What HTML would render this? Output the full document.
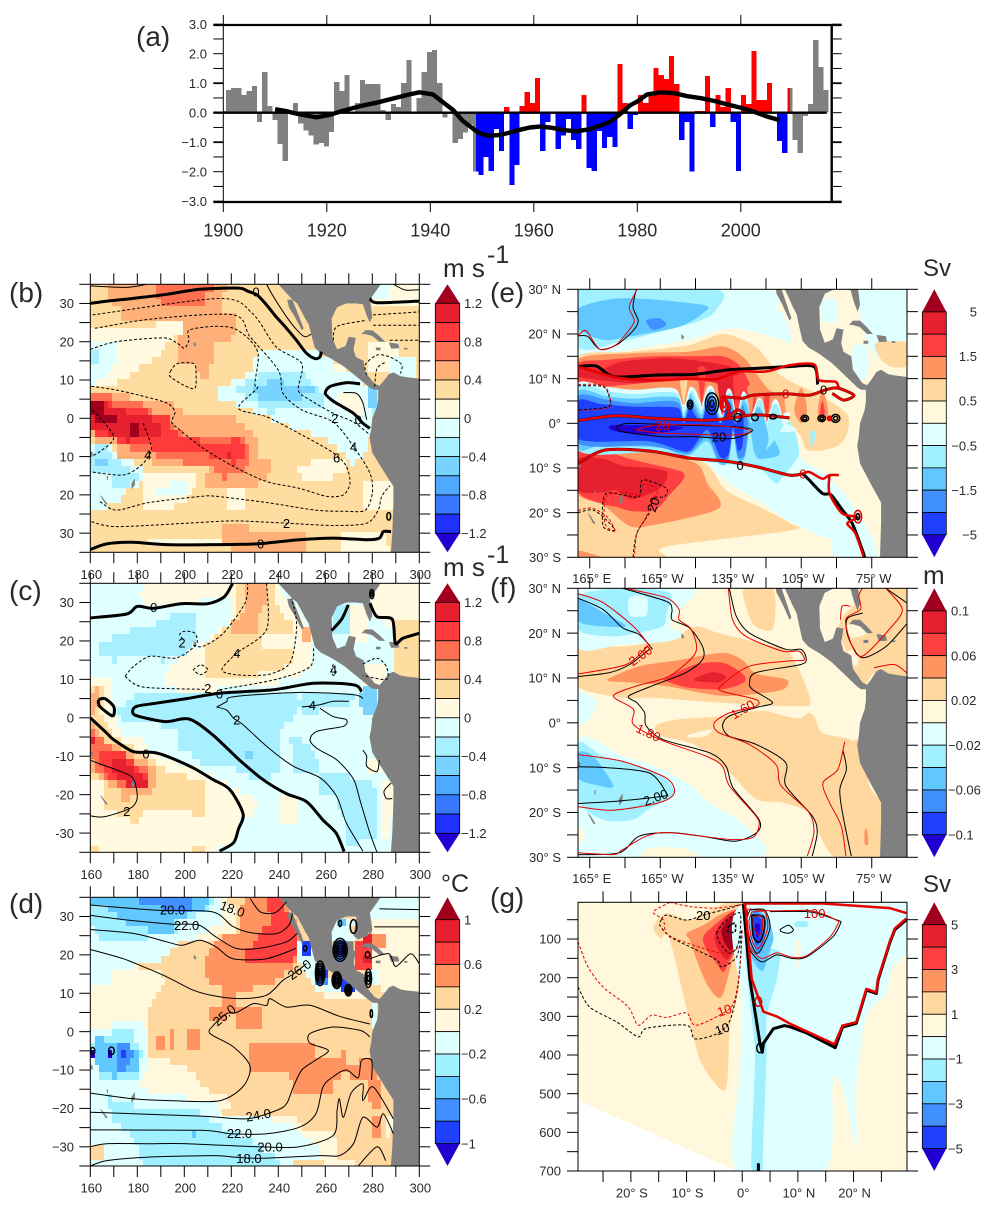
<!DOCTYPE html>
<html lang="en">
<head>
<meta charset="utf-8">
<title>Pacific climate composite panels</title>
<style>
html,body{margin:0;padding:0;background:#fff;}
svg{display:block;font-family:"Liberation Sans",sans-serif;}
text{fill:#2a2a2a;}
</style>
</head>
<body>
<svg id="figure" xmlns="http://www.w3.org/2000/svg" width="997" height="1211" viewBox="0 0 997 1211">
<defs>
<clipPath id="clip-a-plot"><rect x="223.3" y="25" width="608.4" height="177"/></clipPath>
<clipPath id="clip-a-colour"><rect x="476" y="25" width="314" height="177"/></clipPath>
<clipPath id="clip-b"><rect x="90.3" y="284.3" width="329" height="268"/></clipPath>
<clipPath id="clip-c"><rect x="90.3" y="583.3" width="329" height="269"/></clipPath>
<clipPath id="clip-d"><rect x="90.3" y="897.3" width="329" height="268.7"/></clipPath>
<clipPath id="clip-e"><rect x="578" y="289.3" width="329" height="268"/></clipPath>
<clipPath id="clip-f"><rect x="578" y="588.3" width="329" height="269"/></clipPath>
<clipPath id="clip-g"><rect x="578" y="902.3" width="329" height="268.7"/></clipPath>
</defs>
<rect x="0" y="0" width="997" height="1211" fill="#ffffff"/>
<g id="panel-a"></g>
<g id="panel-b"></g>
<g id="panel-c"></g>
<g id="panel-d"></g>
<g id="panel-e"></g>
<g id="panel-f"></g>
<g id="panel-g"></g>
<text x="136" y="46" font-size="28">(a)</text>
<text x="9" y="302" font-size="28">(b)</text>
<text x="9" y="600" font-size="28">(c)</text>
<text x="9" y="913" font-size="28">(d)</text>
<text x="490" y="302" font-size="28">(e)</text>
<text x="490" y="597" font-size="28">(f)</text>
<text x="490" y="907" font-size="28">(g)</text>
<text x="443" y="277" font-size="26">m s</text>
<text x="487" y="263" font-size="25">-1</text>
<text x="443" y="576" font-size="26">m s</text>
<text x="487" y="563" font-size="25">-1</text>
<text x="441" y="892" font-size="25">°C</text>
<text x="923" y="276" font-size="24">Sv</text>
<text x="923" y="584" font-size="26">m</text>
<text x="923" y="892" font-size="24">Sv</text>
</svg>
<script>
/* ---------- panel (a) data ---------- */
const earlyGreyValues = [0.05,0.77,0.84,0.84,0.6,0.73,0.9,-0.31,1.38,0.23,-0.25,-1.06,-1.63,0.02,0.33,-0.37,-0.61,-0.78,-1.08,-1.02,-1.15,-0.65,1.04,0.73,1.28,-0.05,0.33,1.11,0.97,0.97,0.97,0.09,-0.25,0.3,0.2,1.0,1.79,0.02,0.5,1.38,2.06,2.13,1.0,-0.17,-0.01,-1.02,-0.89,-0.67,-0.4,-2.0];
const lateGreyValues = [0.84,-0.93,-1.37,-0.11,0.3,2.46,1.55,0.77];
const colouredValues = [-2.0,-2.11,-1.5,-1.98,-0.55,-1.3,0.19,-2.45,-1.77,0.23,0.7,0.33,1.18,-1.3,-0.32,-0.02,-1.23,-0.78,-0.21,-0.93,-1.23,0.6,-1.88,-1.98,-0.62,-1.2,-0.82,-1.16,1.65,0.33,-0.55,-0.08,0.6,0.33,0.57,1.52,1.28,1.14,1.92,0.97,-0.93,-0.32,-2.0,0.05,0.05,1.24,-0.49,0.6,0.2,0.84,-0.32,-1.98,0.6,0.3,2.09,0.43,0.43,1.0,-0.02,-0.96,-1.37,0.84];
const smoothYears = [1910,1912.2,1914.1,1918,1920.6,1923.2,1926.4,1929.6,1933.4,1936,1937.9,1940.5,1942.5,1944.4,1946.3,1948.3,1949.5,1951.2,1953.4,1955.4,1957.3,1959.2,1961.2,1963.4,1965.7,1968.3,1970.8,1972.8,1974.7,1976.6,1978.6,1980,1981.9,1984.5,1987.1,1989.7,1992.3,1994.8,1997.4,2000,2002.6,2005.2,2007.5];
const smoothValues = [0.12,0.05,-0.03,-0.16,-0.07,0.07,0.22,0.34,0.51,0.62,0.69,0.62,0.35,0.09,-0.28,-0.55,-0.70,-0.78,-0.76,-0.67,-0.58,-0.50,-0.47,-0.51,-0.59,-0.63,-0.56,-0.44,-0.31,-0.06,0.25,0.38,0.62,0.69,0.66,0.56,0.49,0.40,0.28,0.17,0.03,-0.14,-0.25];
const yearTickLabels = [1900,1920,1940,1960,1980,2000];
const valueTickLabels = [3,2,1,0,-1,-2,-3];

/* ---------- colour scales (band index, low = 0) ---------- */
const palette14 = ['#2000d0','#2030ff','#3878ff','#50a8ff','#78d4ff','#a8f0ff','#e0ffff','#fffae0','#ffdca0','#ffb078','#ff7050','#ff3a3a','#e6202e','#a0001e'];
const palette12 = ['#2000d0','#2040ff','#4090ff','#60c8ff','#a0f0ff','#e0ffff','#fff8dc','#ffd8a0','#ff9460','#ff4040','#e6202e','#a0001e'];
const colourbarLabelsB = ['1.2','0.8','0.4','0','−0.4','−0.8','−1.2'];
const colourbarLabelsD = ['1','0.6','0.2','−0.2','−0.6','−1'];
const colourbarLabelsE = ['5','1.5','0.5','−0.5','−1.5','−5'];
const colourbarLabelsF = ['0.1','0.06','0.02','−0.02','−0.06','−0.1'];
const colourbarLabelsG = ['5','3','1','−1','−3','−5'];

/* ---------- land ---------- */
const landOutlines = [
[[239.3,36],[239.3,35.5],[243,33],[246,31],[248,30],[251.5,26],[253,24.5],[254,22],[255.5,18.5],[258,17],[262.5,15.6],[268,13.5],[272,11.5],[276,9.5],[279,8],[280.5,7.5],[282.5,7.5],[282.5,5],[282,3],[280,0],[279.5,-3],[278.8,-5],[280,-9],[282,-11],[285,-14],[289,-17.8],[289,-22],[288.5,-30],[287.8,-36],[301,-36],[301,10.3],[298,10.5],[295,10.7],[292,11],[289,12],[287,11.5],[284.5,9.5],[283,8.5],[281,9],[277,12],[276.3,15],[273,16],[272,18],[273,21],[270,21.3],[268.5,18.8],[265,18],[263,21],[262.7,26],[265,29],[269,30],[273,30],[276,29.8],[277.5,27],[279,25],[280,26.5],[279,31],[283,34.5],[284,36]],
[[243.8,31],[246,31],[250.8,23.5],[250,23],[247,26.5],[244.5,29]],
[[275.3,22],[277,23],[280,23],[283,21.5],[285.5,20],[283,20],[280,21.5],[277,22]],
[[287,19.8],[291,19.5],[291.5,18.3],[288,18.2]],
[[293.5,18.4],[295,18.4],[295,18],[293.5,18]],
[[281.5,18.5],[283.5,18.5],[283.5,17.8],[281.5,17.8]],
[[204,20],[205,19.5],[205,18.8],[204,19]],
[[177.5,-17],[179,-15.7],[179,-17.5],[177.5,-18.5]],
[[164,-20],[165,-20.5],[167.5,-22.5],[166.5,-22.5]],
[[160,-8.5],[161,-9],[161,-10],[160,-9.5]],
[[167,-15],[167.5,-15],[167.5,-16],[167,-16]]
];
const panelDExtraLand = [
[[269,23.5],[272,23.5],[272,16],[269,17]],
[[272,25],[274,24],[278,25],[279,30],[273.4,30.4]]
];

/* ---------- panel (b) data: [colour band, lon/lat outline] ---------- */
const panelBRegions = [
[9,[[168,35],[224,35],[217,34],[217,28],[221,27],[222,23],[220,20],[212,19.6],[212,14],[209,9.5],[207,12],[205,13.5],[198,15],[198,21],[199,25],[173,25],[173,28],[171,29],[168,31]]],
[10,[[187,35],[214,35],[209,32],[209,29],[192,29],[188,32]]],
[7,[[160,23.5],[199,25],[199,21],[192,20.4],[192,18.7],[190,16.5],[182.5,14],[177.5,11.3],[173,9.5],[168,9],[160,8]]],
[6,[[160,20],[171,19.5],[171,15],[167,11],[163,9.5],[160,9]]],
[5,[[160,17],[164,17],[164,14.5],[160,14.5]]],
[6,[[231,17],[240,18.7],[249,17.8],[258,17],[263,15],[263,11.7],[272,13],[276,10],[279,7.4],[282,5],[282,3],[279,-5.6],[277.6,-9],[272,-11.7],[269,-11],[267.7,-9],[263,-6.5],[258,-4.8],[243.5,-2],[235,0.4],[223.7,3],[215,5.6],[215,7.4],[221,10],[229,12]]],
[7,[[263,15],[269,15],[269,12],[263,12]]],
[7,[[265,7],[274,7],[276,3],[276,1],[272,1],[265,4]]],
[5,[[226,9.6],[232,11.3],[252,11.3],[255.6,8.3],[259,5.6],[259,2],[235,1.7],[231,4],[221,7.4]]],
[4,[[229,9],[239,9.6],[248.5,9],[255.6,7.4],[255.6,5.6],[250,5.6],[250,4],[231.5,4],[231,6]]],
[3,[[233,7.4],[241.4,7.4],[242,5.6],[233,5.6]]],
[5,[[278,8],[282.5,8],[282.5,1],[278,2]]],
[4,[[279,7.5],[282,7.5],[282,3.5],[279,3.5]]],
[6,[[279,35],[288,35],[286,31],[279,31]]],
[7,[[288,35],[300,35],[300,29],[280,29],[280,31],[286,31]]],
[7,[[278,20],[292,20],[292,12],[278,12]]],
[6,[[288,16],[298,16],[298,11],[288,11]]],
[9,[[160,7.4],[175.5,5.6],[184,4.8],[194,4],[200,1.7],[209.5,1.7],[221,0],[228,-3],[231.5,-4.8],[231.5,-9.6],[236.5,-10],[236.5,-15],[232,-17],[232,-19],[207,-19],[209.5,-14],[211,-11.7],[186,-11.7],[182.5,-10],[171,-10],[171,-7.4],[164,-6.5],[160,-4.8]]],
[10,[[160,6],[175.5,5.2],[182.5,3.5],[191,-0.4],[199.6,-4],[212,-4.3],[216.6,-4],[227,-6],[227,-13],[216.6,-15.6],[212,-12.6],[200,-11.7],[188,-9.6],[175.5,-7.4],[171,-5.6],[164,-4.8],[160,-3]]],
[11,[[160,5.2],[170,3.5],[182.5,2.2],[194,-0.4],[195,-3.5],[206.7,-6],[216.6,-6],[223.7,-5.6],[226,-7.4],[226,-10],[221,-11.6],[206.7,-9],[195,-9],[188,-7.8],[175.5,-7.4],[171,-5.6],[162.7,-4.3],[160,-2]]],
[12,[[160,5.2],[165.5,3.9],[175.5,1.7],[182.5,1.3],[190,-2.2],[190,-4.3],[182.5,-4.8],[175.5,-6],[171,-4.3],[164,-3.5],[160,-1.7]]],
[13,[[160,3.9],[165.5,3.9],[165.5,1.7],[171,1.7],[171,-1.7],[164,-1.7],[160,0.4]]],
[13,[[177,-2],[180.5,-2],[180.5,-4],[177,-4]]],
[12,[[218,-8],[220,-8],[220,-10],[218,-10]]],
[12,[[220,-10],[222,-10],[222,-11.5],[220,-11.5]]],
[6,[[160,-7.4],[170,-7.8],[171,-10],[182.5,-12.6],[182.5,-17],[175.5,-18.7],[171,-22],[164,-24],[160,-24]]],
[5,[[160,-7.8],[168,-7.4],[171,-10.9],[177,-13.5],[182.5,-14],[181,-15.6],[175.5,-17.4],[170,-17.4],[168,-14.3],[160,-13.5]]],
[4,[[162,-10],[168,-10],[168,-11.7],[164,-13.5],[162,-11.7]]],
[7,[[182.5,-13.5],[205,-13.5],[204,-19],[200,-22],[191,-24],[182,-23]]],
[6,[[194,-15.6],[202,-15.6],[202,-21],[188,-21],[188,-19],[194,-18]]],
[7,[[219,-19],[226,-19],[226,-23],[219,-23]]],
[9,[[216.6,-27],[226,-27],[227,-29],[252,-29],[252,-35],[220,-35],[216.6,-32]]],
[7,[[185,-31],[216,-31],[216,-33.5],[185,-33.5]]],
[7,[[266,-30],[285,-29],[287,-35],[266,-35]]],
[7,[[277,-17],[289,-17],[289,-23],[277,-23]]],
[7,[[248.5,-12],[269,-10],[269,-15],[250,-16]]]
];
const panelBContours = [
['thick',[[160,30],[168.4,30.7],[178,31.3],[192.6,32.4],[206.7,33.7],[223,34],[227,33.2],[231,32.2],[235,29.6],[239,26.6],[243.5,23.5],[247.7,20.4],[252,17],[255.6,15.6],[257.7,16],[258.3,17.4]]],
['thin',[[160,34.6],[175.5,34.2],[184,35]]],
['thin',[[235,35],[238,31.7],[243.5,26.5],[248,23],[251.3,21.3],[254,22]]],
['thick',[[279,31.3],[282,30.2],[300,30.6]]],
['thin',[[289,35],[294,33.5],[300,33.6]]],
['dash',[[161,27],[215,31.3],[229,27.4],[239,18.7],[250,14.3],[248.5,7.4],[253.5,4.8],[263.4,1.3],[272,-1],[279,-4.3]]],
['dash',[[162,23.5],[187,26],[221,27],[228,21.3],[240,12.6],[242,6.5],[250,2.2],[263.4,-1],[272,-7.4],[279,-14.3],[280,-19.6],[277,-24],[269,-24.3],[256,-24],[235,-22],[214,-20.4],[207,-20.4],[185,-22],[171,-24],[164,-21.7]]],
['dash',[[160,18],[171,20],[191,21],[197,19.6],[200,18.3],[202,20.4],[202,23],[212,24],[221,23.5],[228,20.4],[231.5,16.5],[230,9],[231,7.8],[223,2.6],[235,0.4],[249,-4],[263.4,-9],[269,-12.6],[270.5,-17],[267.7,-20],[260.6,-20.4],[249,-18.3],[235,-16.5],[221,-12.6],[208,-7.8],[198,-3],[194.6,-1],[196,1.7],[192.5,4],[181,6],[171,7.4],[160,8.4]]],
['dash',[[194,12.2],[197,14.3],[204,14.3],[205,11.7],[204.5,7.8],[199.6,8.7],[194,10.9],[194,12.2]]],
['dash',[[161,2.2],[170,-4.8],[164,-8.7],[160,-10]]],
['dash',[[182.5,-1.3],[186,-7.4],[184.7,-10],[181,-12.6],[174,-14.8],[160,-14]]],
['dash',[[160.5,-27],[171,-28.3],[201,-27.4],[221,-26.8],[243.5,-27.4],[263.4,-28],[277.6,-27.4],[282.5,-24],[284,-20.4],[287.5,-17.6]]],
['thick',[[160,-34.3],[167,-32.8],[178,-32.4],[192.5,-33],[212,-33],[231,-32.8],[238,-32.4],[249,-31.7],[263.4,-31.3],[277.6,-31.7],[283,-31.3],[284.7,-29.6],[288,-29.6]]],
['thick',[[274.8,9],[269,9.3],[262,8.3],[260,6.5],[262.7,4.8],[266,3.5],[272,1.3],[276,-1.3],[279,-2.6]]],
['thin',[[267.7,6.7],[273.3,6.5],[276,4],[277.6,-0.4]]],
['dash',[[277.6,11.3],[277,14],[282,16.5],[287.5,16],[292.5,14],[292,11.7]]],
['dash',[[281,8.3],[282,13],[286,14.8]]],
['dash',[[280.4,27],[300,27.8]]],
['dash',[[280.4,24.3],[300,24.3]]],
['dash',[[287.5,20.4],[300,20.4]]],
['dash',[[263.4,20.4],[265,24],[277.6,25.6]]]
];
const panelBLabels = [['0',230.5,33,'#000',0],['2',264,0,'#000',0],['0',274,-0.4,'#000',0],['4',272,-7.4,'#000',0],['6',264.8,-10.3,'#000',0],['2',243.5,-27.4,'#000',0],['0',232.5,-32.8,'#000',0],['4',184.5,-9.5,'#000',0]];
const panelBHotspots = [[287,-25.6,0.8,1,1,'#000']];

/* ---------- panel (c) data ---------- */
const panelCRegions = [
[7,[[180.4,32],[184,35],[220,35],[220,31.5],[202,29.7],[184,29]]],
[7,[[192.5,12.5],[201,17],[208,19],[219.5,25.7],[221,35],[239,35],[247,29],[254,23],[254,13.4],[249,10.8],[239,9],[212,7.3],[198,7.3],[191,9]]],
[8,[[209,18.6],[221,25.5],[221,35],[239,35],[238,30],[247,23.8],[247,15.5],[243.5,13.4],[235,11.6],[209.5,9.4]]],
[7,[[233.6,22],[247,22],[247,17],[233.6,17.2]]],
[9,[[226.5,35],[235,35],[235,30],[231.5,27],[231.5,21],[220,21],[220,24.7],[224.4,27]]],
[9,[[250,23],[254,23],[254,19],[250,19]]],
[7,[[160,11],[168.4,11],[170,5.5],[170,0.3],[173.3,-4],[181,-4],[184,-8.3],[198,-11.8],[209.5,-14],[219.5,-18],[231,-21.7],[231,-24.7],[225,-25.6],[223,-29],[222,-31.6],[214,-34.7],[160,-34.7]]],
[8,[[160,7],[164,9.5],[167,6.4],[164,2],[170,-5],[177,-7.4],[184,-9.2],[192.5,-13.5],[209,-17],[209,-26.5],[194.6,-23],[183,-24.7],[180,-28],[164,-22],[160,-17]]],
[7,[[160,-17],[166,-17],[166,-24],[160,-24]]],
[9,[[160,0.3],[164,-5],[171,-7.4],[181,-10],[188,-13.5],[188,-18.7],[184,-20.4],[174,-21.3],[174,-18.7],[167,-17],[160,-13.5]]],
[9,[[160,7],[163,8],[165,4],[162,1],[160,1]]],
[10,[[160,-2.2],[165.5,-5.7],[171,-9],[178,-11],[184.7,-13.5],[184.7,-18.7],[174,-19],[170,-17],[164,-15],[160,-10]]],
[11,[[164,-9.6],[175.5,-9.6],[181,-13.5],[184.7,-16],[184,-19],[175.5,-19],[175.5,-17],[170,-17],[164,-11.8]]],
[12,[[170,-11.4],[175.5,-11.4],[179,-13.5],[184,-15.7],[184,-19],[175.5,-19],[175,-17],[170,-15]]],
[12,[[160,-4],[162,-4],[162,-6],[160,-6]]],
[5,[[164,20.7],[170,20.7],[175.5,22.5],[191.7,25],[195,28],[205,28],[205,23.7],[204.5,19.4],[198.8,16],[191,15],[182.5,16],[170,15],[164,15.5]]],
[5,[[171,2],[177.5,5.5],[230.7,6.8],[248,5.5],[248,1.2],[240.7,-4],[240.7,-13.5],[232,-17],[222,-13.5],[216.5,-12.7],[208,-11.8],[196.6,-7.5],[196.6,-3],[179.6,-0.5],[172.5,-0.4]]],
[5,[[248,5.5],[272,6],[273,4],[260,2],[250,1]]],
[5,[[245,-5.7],[250.5,-5.7],[259,-12.7],[258,-13.5],[269,-15],[282,-17.8],[282,-30.8],[269,-33.4],[268.7,-27.4],[263.4,-19.6],[258.4,-20.4],[258,-15],[246.5,-13.5]]],
[4,[[224,-8],[229.4,-8],[229.4,-11.8],[226,-10.8]]],
[4,[[175.5,1.6],[178.5,1.6],[178.5,0],[175.5,0]]],
[4,[[275.5,7.7],[282.5,7.7],[282.5,2.5],[280,-0.5],[276,2],[274.5,4.7]]],
[7,[[276,15],[286,15],[286,9],[276,9]]],
[8,[[290,26],[300,26],[300,9],[289,9]]],
[7,[[280,33],[283,35],[300,35],[300,26],[290,26],[290,22],[280,28]]],
[7,[[270,30],[279,30],[279,20],[270,20]]],
[5,[[263,30],[270,30],[270,21],[263,21]]],
[7,[[240.7,-21],[249,-21],[249,-28.5],[240.7,-28.5]]],
[7,[[283,-17],[289,-17],[288,-32],[283,-32]]],
[8,[[160,-33],[164,-33],[164,-35],[160,-35]]],
[8,[[203,-33],[209,-33],[209,-35],[203,-35]]],
[7,[[278,-10],[283,-10],[283,-14],[278,-14]]]
];
const panelCContours = [
['thick',[[160,26],[175.5,27],[180,29],[187,28.5],[198.7,29.7],[210,29.7],[217,31.5],[220.6,35]]],
['thick',[[279,29.8],[282,26.3],[288.5,25.6],[289.8,19.4],[293,20.7],[300,22]]],
['thick',[[262.7,22.7],[267,25.7],[269.8,29.4]]],
['thick',[[275.5,6.8],[272,8.6],[255,9],[238,7.3],[215,6.4],[201,5],[188,3.8],[179.7,3],[178,1.6],[180,0.5],[192,-1],[202,-0.3],[212,-4.4],[223.5,-11],[233.3,-16],[243.3,-19.7],[252,-21.8],[259,-26.6],[264.6,-30],[268,-34.8]]],
['thick',[[163.4,4.7],[166.2,5],[170,2.9],[169.5,0.5],[164,3],[163.4,4.7]]],
['thick',[[160,0],[167,-4],[170,-5.7],[178.3,-8.8],[186.7,-9],[192.5,-10],[203.7,-13],[212,-16],[219.4,-18.7],[225,-25],[223,-29],[221,-32.5],[215,-34.7]]],
['dash',[[174.8,10.8],[178.3,13.3],[185.4,16],[196.7,15.6],[205,19],[204.5,22],[200,22.5],[198,21.6],[199.7,20.3]]],
['dash',[[174.8,10.8],[182.6,8],[209.5,7.4]]],
['dash',[[203.8,18.9],[208,18.6],[216.6,22],[225.8,29.8],[227,35]]],
['dash',[[235,35],[235,23],[222.3,16.8],[216,12.5],[222.3,11.2],[235,11.2],[243.5,13.3],[246.4,16.8],[247.8,24.6],[245.7,31]]],
['dash',[[215,7.3],[239,10],[253.5,13.3],[255,18.6]]],
['dash',[[203.8,12.5],[207,13.8],[210,12.5],[206.7,11.2],[203.8,12.5]]],
['dash',[[262.5,12],[263.5,14],[264.5,12],[263.5,11],[262.5,12]]],
['dash',[[276,14],[282,15.5],[286,13.3],[286,10],[276,11]]],
['thin',[[213.8,2.8],[218,4.2],[221,5.5],[249.4,6.6],[272,6],[276,5]]],
['thin',[[213.8,2.8],[218,2],[221,-0.1],[225,-1.8],[235,-7.4],[246.4,-12.6],[257.7,-15.6],[264.8,-20.4],[269,-27.4],[276,-34.7]]],
['thin',[[250,2.8],[257.7,3.4],[263.4,4.3],[270,4.3]]],
['thin',[[257.7,2.5],[263.4,0.3],[269,-0.5],[267.7,-2.2],[256.5,-3.5],[253.5,-5.7],[256.5,-8],[265,-11],[272,-16],[275,-22],[279,-30],[282,-35]]],
['thin',[[160,-11],[164,-12],[171,-13.5],[178,-15.6],[180,-20.4],[178.3,-23],[174,-24.3],[165.5,-25.8],[160,-25.5]]],
['thin',[[276,-8.4],[277.6,-10],[277.6,-12.6],[282,-14],[283,-11]]],
['thin',[[288,-17],[285,-19],[286,-21],[288.5,-21]]]
];
const panelCLabels = [['0',187,28.7,'#000',0],['2',199,19.5,'#000',0],['4',222.3,16.8,'#000',0],['4',263.5,12.5,'#000',0],['2',210,7.7,'#000',0],['0',215,6.2,'#000',0],['4',254.5,3.2,'#000',0],['2',222.3,-0.5,'#000',0],['0',183.7,-9.4,'#000',0],['2',175.5,-24.3,'#000',0]];
const panelCHotspots = [[279.8,32.2,0.9,1.2,2,'#000']];

/* ---------- panel (d) data ---------- */
const panelDRegions = [
[6,[[160,12.5],[169,13],[170,16],[180,17],[192.6,14.3],[189,10.8],[188.4,8.2],[185,7],[185,1.7],[183,-2.2],[183.5,-7.5],[192,-7.5],[203.4,-10],[210,-15.6],[219.4,-17.7],[219.4,-21.2],[238,-21.2],[248,-22],[250.5,-25],[242,-24.7],[215,-20.4],[208,-18],[188.4,-17],[172.7,-12.7],[160,-11.8]]],
[5,[[160,35],[220,35],[217,33.4],[217,25],[202.4,24],[198,23],[189.5,18.6],[180,17],[170,16],[169,13],[160,12.5]]],
[6,[[217,34.5],[222,32],[222,26],[211,24],[200,24],[198,23],[206,25],[217,28]]],
[4,[[160,35],[212,35],[212,32.5],[207,31],[198,28.6],[197,26.4],[185,26.4],[183.5,23],[165,23],[164,25.6],[160,26.8]]],
[3,[[160,35],[211,35],[211,33.4],[207,31],[195.6,29.5],[195.6,26.4],[185,26.4],[185,28],[176,28],[171,29.7],[171,32],[160,32.4]]],
[2,[[181,35],[204,35],[203,32],[191,32],[181,33.4]]],
[8,[[221,30.8],[228,35],[240.7,35],[249,27.3],[249.4,20.3],[246.4,17],[239,13.4],[223.7,10],[217,10.8],[209,13.4],[209,18],[212,23],[218,25],[223.7,25.6],[223.7,30.8]]],
[9,[[235,35],[240.7,35],[248,27.3],[248.5,21],[246.4,18.6],[225.8,17],[225.8,20.8],[231.4,24.7],[237,29],[235,32.5]]],
[8,[[211,7.3],[216.6,7.3],[216.6,9.5],[222,9.5],[222,4.7],[216.6,3.4],[211,3.4]]],
[8,[[222.5,5.6],[233.6,5.6],[233.6,1.7],[222.5,1.7]]],
[8,[[201.7,1.7],[205,1.7],[207.4,-0.5],[207.4,-4],[201.7,-4]]],
[8,[[188,-0.5],[191,-0.5],[191,-4],[188,-4]]],
[8,[[194,1.2],[195.6,1.2],[195.6,-4],[194,-4]]],
[8,[[227.6,-2.3],[255,-2.3],[255.7,-7.5],[268.7,-5.7],[268.7,-10],[276,-7],[279.6,-7],[283,-13.4],[284,-15],[282.7,-20.5],[279,-19],[277.8,-13.4],[269,-10.8],[263.4,-13.4],[263.4,-17],[252,-17],[245.7,-15],[246.4,-11.6],[228,-11]]],
[8,[[279.7,-21.8],[284.7,-21.8],[283.3,-27],[279.7,-27]]],
[6,[[249,-25.7],[260,-25],[265,-27.5],[265.4,-32.7],[274,-35],[260,-35],[251,-30],[249,-27.3]]],
[6,[[284.7,-22],[289,-22],[288,-28],[286,-28]]],
[5,[[160,-11.4],[182.6,-13.6],[184.7,-15.7],[208,-18],[214.4,-18.8],[215,-21],[226,-22.7],[239,-23],[246.4,-25],[257.7,-30],[257.7,-32.7],[240.7,-35],[160,-35]]],
[4,[[168,-17],[178.3,-19.2],[201,-19.2],[207.4,-21.4],[216.6,-25.3],[228,-27.5],[232,-30],[240.7,-33],[240.7,-35],[184,-35],[181,-32.7],[181,-31],[174,-25],[170.3,-23],[168,-19.6]]],
[3,[[201.7,-25],[205,-25],[207,-28.8],[203.4,-27.5]]],
[7,[[160,-29],[166,-29],[166,-33],[160,-33]]],
[5,[[160,0],[170,2],[183,2],[185,-5],[183,-12],[160,-12]]],
[4,[[162,-0.5],[170,-0.5],[170.5,1.7],[177.6,1.7],[179,-2.2],[182.5,-4.9],[181,-8],[180.4,-11.8],[164,-11.8],[164,-9.6],[160,-5.3]]],
[3,[[162,-0.5],[165.5,-0.5],[165.5,-4],[170.5,-2.3],[173.4,-2.3],[173.4,-4.9],[179,-4.5],[181,-6.6],[180.4,-10],[176,-10],[171,-11.8],[164,-9.6],[162,-7.5]]],
[2,[[170.5,-3.6],[178,-4],[178,-6.6],[174.5,-10],[171,-9.6],[170.5,-6.6]]],
[1,[[173.4,-4],[175.5,-4],[175.5,-6],[173.4,-6]]],
[0,[[160,-4],[162,-4],[162,-6],[160,-6]]],
[0,[[168,-4],[170,-4],[170,-6],[168,-6]]],
[5,[[249,24],[255,24],[258,17],[262,14],[274,12],[272,8],[262,11],[256,11],[249,18]]],
[1,[[250,23],[253.5,23],[253.5,20],[250,20]]],
[2,[[255.6,17.3],[261.3,17.3],[261.3,12.5],[255.6,12.5]]],
[1,[[256.5,16.5],[260.5,16.5],[260.5,13.5],[256.5,13.5]]],
[3,[[262.7,15.6],[267,15.6],[267,11.3],[262.7,11.3]]],
[1,[[267,13.4],[272.6,13.4],[272.6,9],[267,9]]],
[5,[[262,30],[272,30],[272,24.5],[262,24.5]]],
[3,[[265,29],[268,29],[268,26.5],[265,26.5]]],
[7,[[270,27],[273,27],[273,25],[270,25]]],
[3,[[263,24.5],[270,24.5],[270,17.5],[263,17.5]]],
[2,[[263.5,24],[269,24],[269,17.8],[263.5,17.8]]],
[1,[[265,23],[268,23],[268,19],[265,19]]],
[6,[[280,30],[300,30],[300,11],[283,11],[280,16]]],
[5,[[279,35],[300,35],[300,30],[279,30]]],
[9,[[272,23],[280,23],[280,15.6],[272,15.6]]],
[10,[[276,20],[279.5,20],[279.5,17.5],[276,17.5]]],
[10,[[276.5,25],[279.5,25],[279.5,22.5],[276.5,22.5]]],
[8,[[280,26.4],[285,26.4],[285,22],[280,22]]],
[5,[[278,16],[281,16],[281,11.6],[278,11.6]]],
[6,[[249,13],[257,13],[260,8],[280,8],[277,11],[272,10],[262,10.8]]],
[5,[[279.8,8],[282.6,8],[282.6,1],[279.8,1]]],
[2,[[279,5.5],[280.5,5.5],[280.5,3.8],[279,3.8]]]
];
const panelDContours = [
['thin',[[160,33],[174,32.3],[189.6,31.6],[212,31.2],[220.4,27.5],[228,25.8],[239,25.5],[244.5,27.7],[246,30.7]]],
['thin',[[160,30.3],[176.6,29],[195,28],[206,27.8],[213.4,24.7],[222,21.7],[231.7,21.7],[243.5,23.4],[248,25.6]]],
['thin',[[160,26.6],[178.3,25.6],[192.5,23.4],[199,22.5],[206.7,23.8],[213.7,22],[220.7,19],[235,19],[247.6,21.7]]],
['thin',[[160,21.4],[174,19],[182.6,16.9],[192.5,14.3],[203.8,10.8],[213.7,9.2],[223.7,8.6],[235,9.5],[242,13.4],[246.4,15],[252,17.7]]],
['thin',[[279,2],[266,4],[253.5,6.9],[243.5,6.4],[236.5,8.6],[235,6.8],[229.4,7.3],[222.3,5],[218,4.7],[212.3,1.6],[211,-0.5],[221,-4],[228,-9],[225,-14.3],[215,-18],[195,-18],[178.3,-17.5],[160,-16]]],
['thin',[[279,-1.4],[275,0.3],[263.4,1.2],[253.5,-0.5],[253.5,-3],[261.3,-4.9],[255.7,-7.5],[250,-10],[246.4,-14.4],[243.6,-18.7],[239.3,-20.5],[226.7,-22.7],[207,-22],[160,-21]]],
['thin',[[160,-25.6],[207,-25.7],[219.7,-26.6],[235,-26.6],[249,-24.9],[256,-21.4],[259,-14.4],[263.4,-11.7],[269,-10],[274,-12],[275.4,-7.5],[279.7,-7.5],[279.7,-12.6]]],
['thin',[[160,-30],[167,-29.2],[185,-29.2],[201,-29.2],[232,-30],[249,-30],[263.4,-27],[265,-20.5],[266,-17.5],[267.7,-22.3],[271,-16],[276,-13.6],[276,-18],[280.4,-14.4],[289,-22.7]]],
['thin',[[160,-35],[167,-33.6],[184,-32.7],[212.4,-32.3],[222,-32.7],[233,-33],[257.7,-32.3],[266,-32.3],[272,-29.2],[276,-22.3],[282,-24.9],[284.7,-21.4],[289,-26.6]]],
['thin',[[274,-35],[282,-30],[285.7,-33.6]]],
['thin',[[283,32],[300,31.8]]],
['thin',[[280.8,27.3],[300,27.3]]],
['thin',[[279,19],[287,20.3],[290,17],[296.3,20.3],[300,17.7]]],
['thin',[[228,34.7],[232.4,31.2],[238.7,31],[243.5,33.8]]]
];
const panelDLabels = [['18.0',220.5,32,'#000',20],['20.0',195,31.7,'#000',0],['22.0',201,27.7,'#000',0],['26.0',249,16.2,'#000',-35],['25.0',217,4.3,'#000',-40],['24.0',231.5,-21.7,'#000',-10],['22.0',223.5,-26.5,'#000',0],['20.0',236.5,-30,'#000',0],['18.0',227.5,-33,'#000',0]];
const panelDHotspots = [[266.3,21.3,3,3,5,'#000'],[257.8,15.2,2,3.2,5,'#000'],[264.9,13.4,2,2.2,5,'#000'],[269.8,10.8,1.5,1.5,4,'#000'],[161,-5,0.9,0.9,1,'#000'],[169,-5,1.2,1,1,'#000'],[278.3,13.9,1.4,2.4,3,'#000'],[251.4,21.7,0.7,0.7,1,'#000'],[266.3,28.2,0.6,0.8,1,'#000'],[272,27.4,1.4,1.8,1,'#000'],[278,20,1,0.8,1,'#000'],[279.6,4.7,0.5,1,1,'#000']];

/* ---------- panel (e) data ---------- */
const panelERegions = [
[5,[[160,30],[240,30],[245,25.7],[249,22.8],[251,18],[245,19],[231,21],[221,21],[210,19],[190,17.2],[176,16],[160,15]]],
[4,[[160,30],[218,30],[219,25.5],[212,23],[196.5,20.7],[179,18.4],[160,17]]],
[3,[[160,25.7],[179,28],[213,26.5],[213,24.6],[203,21.6],[182,19.4],[170.6,18.7],[160,21.3]]],
[2,[[189,23],[194.6,23.5],[197.5,22],[192,20.9]]],
[5,[[264,27.5],[270,27.5],[270,23],[264,23]]],
[5,[[280,30],[300,30],[300,16],[285,16]]],
[5,[[277,17],[283,17],[283,10.5],[277,10.5]]],
[7,[[287,18],[300,18],[300,13],[293,12.7],[288,15]]],
[7,[[160,15],[182,16],[207,17.5],[221,20],[230,18.7],[237,16.5],[247,10.5],[264,6],[275,1.5],[272,-4.5],[258,-6],[245,0],[160,6]]],
[8,[[160,14.3],[183.4,15.7],[207,16],[221.5,17.2],[230,15],[235.7,11.2],[241.3,7.5],[247,6],[248,1.5],[240,0.7],[230,1.5],[210,4],[160,6]]],
[9,[[160,13.4],[172,14.2],[193,15],[210,15],[221.5,15],[228.6,13],[233,9],[235.7,5.2],[233,1.5],[227,1.5],[220,9],[208,10],[160,8]]],
[10,[[160,12.5],[170.6,12.3],[179,13.8],[199,14.6],[218.7,13.4],[227,12],[228.6,7.5],[227,4.5],[221.5,6],[218.7,9],[201.7,9.7],[183.4,9],[160,10.4]]],
[7,[[160,-18.7],[184,-24.6],[185,-30],[160,-30]]],
[7,[[160,-18.7],[184,-24.6],[185,-30],[197.5,-30],[197.5,-27.6],[250.5,-24],[250.5,-22.4],[237,-18.7],[223,-15],[216,-9.7],[209.5,-8],[199,-6.3],[172,-6],[160,-6]]],
[8,[[160,-15.7],[170.6,-18.3],[182,-23],[192,-22.8],[220,-19],[215,-13.4],[212,-9.7],[206,-8],[200,-7],[180,-6],[160,-6]]],
[8,[[160,-28.5],[170,-30],[160,-30]]],
[9,[[160,-6],[171,-6],[179,-7.5],[190,-9],[204,-10.8],[204.6,-12.7],[199,-16],[193,-19.4],[183.4,-19.7],[176,-18.7],[170.6,-18],[160,-15.3]]],
[10,[[160,-8],[171,-8],[179,-9.5],[190,-10],[198,-11],[195,-14.5],[183,-17],[176,-15],[170,-15.5],[160,-15]]],
[5,[[247,2.2],[250,0],[254.8,-7.5],[266.8,-12],[276.7,-18],[282.4,-23],[287.3,-30],[269.6,-30],[268,-26],[264,-25.4],[247,-21],[235.7,-17],[224.4,-13.4],[214.5,-9],[210,-6]]],
[4,[[231.4,0],[244,-0.7],[250.5,0],[254,-6.7],[247,-12],[244,-13.4],[235.7,-9.7],[220,-9],[210,-6.7]]],
[3,[[240,-0.7],[245.6,-6],[244,-7.5],[235.7,-7.5],[237,-1.5]]],
[5,[[160,9],[172,8.2],[184,7.5],[196,8],[202,7.5],[205,4],[207.5,8],[210,7.5],[212.6,4.5],[215,8],[217.5,8],[221,3],[223.5,7.5],[225.5,7],[227.5,2],[230,7],[232,6],[233.5,2],[236.5,5.5],[238.5,5],[240.5,1],[243,5],[245,5],[247.5,1],[249,0],[247,-2],[160,0]]],
[4,[[160,8],[172,7.2],[184,6.5],[196,7],[202.5,6.5],[205,2.5],[207.7,7],[209.5,6.5],[212.6,3],[215,7],[217.5,7],[221,1.5],[223.5,6.5],[225.5,6],[227.5,1],[230,6],[232,5.5],[233.7,1],[236.5,5],[238.5,4.5],[240.5,0],[243,4],[245,4],[247,0],[247,-1],[240,-6],[230,-8.5],[217,-8],[205,-7],[190,-6.5],[160,-6]]],
[3,[[160,7],[172,6],[184,5.5],[196,6],[203,5.5],[205,1.5],[207.7,6.5],[209,5.5],[212.6,2],[215,6.5],[217.5,6.5],[221,0.5],[223.5,6],[225.5,5],[227.5,0],[230,5],[232,4],[233.7,0],[236,3.5],[238,3],[240,-0.5],[241,-4],[238,-8],[235,-6.5],[233,-1],[231,-7.5],[228,-8],[226,-2],[224,-8.5],[220,-9],[215,-4],[208,-7],[203,-7],[195,-5.5],[170,-5],[160,-5.5]]],
[2,[[160,6],[172,5.3],[184,4.5],[196,5],[203,4.5],[205,0.5],[207.7,5.5],[209,4],[212.6,1],[215,5.5],[217.5,5.5],[221,0],[223.5,5],[225.5,4],[227.5,0],[230,4],[231.5,2],[232.5,-1],[231,-7],[228,-7.5],[226,-2],[224,-8],[220,-8.5],[215,-3],[208,-6.5],[203,-6.5],[190,-5],[160,-4.5]]],
[1,[[160,5],[170,4.3],[185,3.7],[196,3.7],[203,3.3],[205,0],[207.7,4],[209,2.5],[212.6,0.3],[215,4.5],[217.5,4.5],[220.5,0],[223.7,4],[225,2.5],[227,0],[230,2.5],[230.5,0],[230,-5],[228,-6],[226,-1],[224,-7],[220.5,-7.5],[215,-1.5],[208,-6],[203,-6],[190,-4],[160,-3.5]]],
[0,[[174,-0.5],[192,-0.5],[205,-1],[190,-2.5],[176,-1.8]]],
[7,[[203.5,9.5],[206.5,9.5],[205.3,5],[205,4]]],
[9,[[211,12],[214.5,12],[213,5],[212.6,4]]],
[10,[[219,12],[223,12],[222,3.5],[221,2.5]]],
[9,[[226,10],[229,10],[228,3],[227.5,2]]],
[8,[[232,8],[235,8],[234,2.5],[233.5,1.5]]],
[9,[[239,6],[241.5,6],[240.8,1.5],[240.3,0.5]]],
[8,[[246,6],[248,6],[247.3,1.5],[247,1]]],
[8,[[255,8],[257.5,3],[255,0],[252,3]]],
[8,[[264,7.5],[266.5,2.5],[264,0],[262,2.5]]],
[9,[[264,5],[265,2.5],[264,1],[263,2.5]]],
[4,[[259,-2],[261,-2],[260,-5],[259,-4.5]]]
];
const eTopBlack = [[160,12.7],[167.8,12.8],[175.6,10.4],[193,10.8],[210,11],[224.4,12],[235.7,12.3],[250,12.7],[260.4,12.7],[262,8.7]];
const eTopRed = [[160,12.7],[176.3,10.3],[193,9.6],[207.4,10],[218.7,9.9],[228.6,11.6],[240,11.6],[250,13],[260.4,13.2],[262.5,9.7],[269.6,9.3],[271,7.8]];
const eMidLine = [[221.5,6],[230,5.6],[234.4,6.3],[248.4,6.6],[258.3,6.3],[265.4,7.5],[270.4,7.9],[277.4,6.3],[273,5.2],[268.2,6.7]];
const eZigLine = [[221.5,6],[224.4,3.7],[223.7,1.5],[228,3],[231,2]];
const eEquator = [[160,0.6],[176,1.7],[193,1.1],[213,0.7],[224.4,1.1],[235.7,1.9],[250,1.2]];
const eSouthMain = [[160,-9],[171.3,-6],[190.4,-6.2],[207.4,-7.8],[221.5,-8.4],[235.7,-9.7],[250,-11.6],[255.7,-11.3]];
const eNorthWest = [[184.8,30],[183.4,26],[185.6,23],[183.4,20.7],[176.3,17.5],[169.2,16.6],[164.2,19.4],[160,19.6]];
const eWestBox = [[160,8.4],[170.6,8.2],[173.2,6],[172.8,3.7],[160,3]];
const eSouthWest = [[160,-20],[166.4,-19.4],[172,-21.6],[175.6,-23.9],[170.7,-23],[171.4,-16],[179,-16],[186,-16.4],[187.5,-12.7],[197.5,-14.5],[196.8,-16.4],[192,-16.8],[190.4,-20],[185,-24.6],[183.4,-30]];
const panelEContours = [
['thin',eNorthWest],['thinRed',[[185.1,30],[181.8,26],[184,23],[181.5,20.7],[176,17.5],[169.2,16.6],[163.5,20.7],[160,19.6]]],
['dash',eWestBox],['dashRed',[[160,8.7],[170.6,8.5],[173.5,6],[173,3.5],[160,2.8]]],
['dash',eSouthWest],['dashRed',[[160,-19.5],[166,-19],[172.5,-21],[176,-24.3],[171.5,-22.5],[172,-16.5],[179.5,-15.5],[186.5,-16],[188,-13.5],[194,-15],[191,-17.5],[189,-21],[185,-24.8],[184,-30]]],
['thin',[[176.3,-0.7],[182,0],[202,-0.4],[224.4,-0.7],[234.3,-1.5],[225.8,-3.4],[210,-3],[196,-3],[179,-1.9],[176.3,-0.7]]],
['thinRed',[[184.8,-1.5],[193,-0.4],[216,-0.4],[232.8,-1.5],[227,-2.6],[196,-2.2],[184.8,-1.5]]],
['thick',eTopBlack],['thickRed',eTopRed],
['thick',eMidLine],['thickRed',eMidLine],
['thick',eZigLine],['thickRed',eZigLine],
['thick',eEquator],['thickRed',eEquator],
['thick',eSouthMain],['thickRed',eSouthMain],
['thick',[[255.7,-11.3],[258.4,-12.7],[264,-15.7],[267.6,-16],[272.5,-19.4],[276.7,-22.4],[281,-28.4],[282,-30]]],
['thickRed',[[255.7,-11.3],[258.4,-10.9],[264,-12.4],[267,-11.6],[271,-11.6]]],
['thickRed',[[267,-11.6],[267,-15.7],[272.5,-20.2],[279,-21],[274.6,-22.4],[278,-24.6],[281.5,-29.8]]]
];
const panelELabels = [['20',196,-0.4,'#e00000',0],['20',220,-3,'#000',0],['0',248.4,6.6,'#e00000',0],['0',264.5,7.5,'#000',0],['0',255.7,-11.3,'#e00000',0],['0',229,-9.4,'#000',0],['20',192,-18.2,'#000',-70]];
const panelEHotspots = [[207.7,4.2,1.2,1,2,'#000'],[217,4.4,2.8,2.4,3,'#000'],[222,4.4,1.6,1.8,2,'#e00000'],[228,1.3,1.6,0.9,1,'#000'],[235.3,1.3,1.4,0.7,1,'#000'],[243,1.5,1.5,0.5,1,'#000'],[256.5,1.1,1.6,0.7,2,'#000'],[263.7,1.1,1.6,0.7,2,'#000'],[269.6,1.1,1.8,0.9,2,'#000'],[267,1.1,0.8,0.5,2,'#e00000'],[279.1,-20.9,1.6,1.4,2,'#e00000'],[279.1,-20.9,0.7,0.7,1,'#000']];

/* ---------- panel (f) data ---------- */
const panelFRegions = [
[7,[[231,30],[243,30],[243,21],[235,21.7],[231,26.7]]],
[7,[[160,17],[179,17],[199,18.8],[210,21.5],[220,20],[239.5,17.5],[250,15.5],[259,5],[252,3.7],[220,4.5],[192,5.6],[179,5.6],[160,8.2]]],
[7,[[193,-0.7],[201.7,0.7],[221.5,1.5],[235.7,2.6],[258.3,2.2],[264,-2.2],[278,-4.5],[276,-12.6],[288,-17.8],[288,-30],[269.6,-30],[262.4,-24.5],[258.3,-20],[247,-17.8],[235.7,-17],[224.4,-11],[210,-5],[196,-3]]],
[7,[[270,-8],[282,-4],[284,-14],[292,-20],[292,-32],[272,-32]]],
[6,[[207.4,-2.6],[217,-1.5],[214,-3],[207,-3.3]]],
[6,[[240,3.3],[258,3.3],[254,1],[242,2.4]]],
[8,[[173.4,10],[186,12.6],[203,14],[221.5,15.6],[230,14],[235.7,11],[248.4,9.7],[249,8.2],[244,7],[221.5,6],[197.5,8.2],[182,9],[173.4,9.3]]],
[9,[[197.5,10],[210,13],[221.5,13.4],[230,11],[230.7,9],[221.5,7.5],[207.4,7.8],[197.5,9.3]]],
[10,[[210,10],[217.3,11.3],[223,10.4],[220,9],[210.7,9.3]]],
[7,[[271,21.5],[278,26.7],[281,30],[300,30],[300,10],[293,10.5],[286,11],[283,9],[279,8],[277,12]]],
[6,[[275,22],[280,22],[283,20],[276,19]]],
[6,[[275,16],[279,16],[279,13],[275,13]]],
[8,[[282,-24],[283,-24],[283.5,-27],[282,-27]]],
[5,[[160,30],[208,30],[201.7,24.5],[199,21.5],[205,20],[199,18.2],[179,17.5],[160,16.7]]],
[4,[[160,28.2],[179,30],[199,29],[197.6,24.5],[196,21.5],[185,20],[173.4,19.3],[160,20.8]]],
[5,[[182,28],[189,28],[189,24],[182,24]]],
[3,[[160,27.5],[171,24.5],[180.4,21.5],[165,21.8],[160,23]]],
[5,[[160,6.7],[168,4.8],[165,1],[160,0]]],
[5,[[160,-4],[179,-7.4],[196,-10.4],[208,-14],[216,-17.8],[231,-23],[236.5,-30],[160,-30]]],
[4,[[160,-4.5],[170.6,-7.4],[193,-11],[201,-15.6],[190,-19.3],[183.4,-21.6],[170.6,-21.6],[160,-17]]],
[3,[[160,-6.7],[166.4,-7.4],[175,-14],[169,-14],[160,-12.3]]],
[6,[[190,-28],[205,-28],[210,-30],[188,-30]]],
[6,[[160,-23],[163,-25],[160,-27]]]
];
const panelFContours = [
['thin',[[160,27.8],[170.6,25.3],[179,21.2],[186,19.7],[191.7,16.4]]],
['thinRed',[[160,28.8],[170.6,26.8],[183.4,21.6],[190,17.5]]],
['thin',[[179,30],[197.5,27.1],[200,25.3],[200,23],[207.4,21.2],[213,17],[213,14.1],[206,11.2],[193.4,8.6],[181.6,6],[185,4.5],[188.4,2.2],[189,-0.7],[196,-3.7],[216,-6.7],[223,-9.7],[226,-14.5],[237,-21.6],[236,-24.5],[227,-26.4],[213,-25.3],[199,-24.5],[186,-25.3],[177.6,-29],[160,-29.4]]],
['thinRed',[[180,30],[197.5,27.9],[203,25.3],[203,23],[208.2,20.8],[210,15.6],[198.8,10.4],[184.8,8.2],[175,6],[183.6,3],[183.6,-0.4],[196,-4],[214.4,-7.4],[221.5,-9.7],[224.4,-14],[235.7,-20.8],[237,-23],[234.3,-25.6],[224.4,-26],[199,-24.5],[189,-25.3],[179,-28.3],[174.9,-29.4],[160,-29]]],
['thin',[[160,10.3],[173.4,11.2],[182,13],[190.4,16.4]]],
['thinRed',[[160,10.9],[180.5,13],[190.4,17.5]]],
['thin',[[224.4,30],[227.3,23.8],[233,20],[248.4,16.4],[254.8,16.4],[257,14.5],[254.8,13],[235.7,11.2],[233,8.9],[234.3,7.4],[242.8,4.5],[235.7,3.4],[224.4,1.5],[221.5,-0.7],[224.4,-3],[235.7,-4.8],[248.4,-8.9],[248.4,-14],[259.7,-20.8],[261.8,-24.5],[259.7,-29.7]]],
['thinRed',[[224,30],[225.8,23],[231.4,19.3],[247,16],[254,16],[256.2,14],[250,13.8],[232.8,12.6],[220.8,8.2],[221.5,7],[235.7,5.2],[235.7,3.7],[224.4,2.2],[218,0],[220,-2.2],[232.8,-4.8],[244.2,-9.3],[246.4,-14],[258.3,-20],[260.4,-24.5],[257.6,-29.7]]],
['thin',[[272.8,-6.3],[274.2,-10.4],[271.4,-14.9],[272.8,-20.8],[276.3,-29.7]]],
['thinRed',[[273.5,-4.2],[270.6,-10.4],[264.2,-13.4],[267,-17.8],[272,-23],[274,-29.7]]],
['thin',[[160,-9.8],[172,-10],[190.4,-11.2],[197.5,-15.6],[196,-16.4],[176.3,-17.5],[160,-18]]],
['thinRed',[[160,-7.1],[179,-8.6],[197.5,-12.3],[201,-15.6],[194.6,-17.8],[174.9,-19.5],[160,-18.7]]],
['thin',[[291,30],[299.8,26.8]]],
['thin',[[299.8,22],[291,17],[281.2,14.5],[276.3,17.5],[274.2,20.8],[274.9,23.4],[281.2,24.5]]],
['thinRed',[[291,30],[298,25.3],[292.4,20.8],[281.2,14.9],[276.7,17.1],[273.9,23],[280.2,25.3],[279.5,28.3],[281,30]]],
['thinRed',[[271.7,23],[272.4,26],[276,26]]],
['thinRed',[[286,12.3],[294.6,13],[299.8,11.2]]]
];
const panelFLabels = [['2.00',186.5,15,'#e00000',-35],['1.80',190,-2.2,'#e00000',25],['1.60',230,3,'#e00000',-30],['2.00',193,-16.6,'#000',-20]];
const panelFHotspots = [];

/* ---------- panel (g) data: [colour band, latitude/depth outline] ---------- */
const panelGRegions = [
[7,[[-16,68],[-13.6,33],[-9.4,51],[-5.8,25],[-0.1,8],[-0.4,206],[-2.2,327],[-3,490],[-7,430],[-8.8,352],[-13,103],[-14.7,99]]],
[8,[[-10,85],[-7,64],[-3.4,33],[-0.1,25],[-0.4,94],[-1.6,146],[-3.4,241],[-4.6,249],[-6.4,215],[-8.2,154],[-9.4,103]]],
[9,[[-7,94],[-4.6,59],[-2.2,33],[-0.3,25],[-0.7,111],[-2.2,154],[-3.4,185],[-4.6,163],[-6.4,128]]],
[10,[[-4.9,85],[-3.4,51],[-2.2,33],[-0.4,33],[-0.7,94],[-1.9,137],[-2.8,154],[-4.6,120]]],
[11,[[-3.7,77],[-2.2,46],[-0.7,42],[-0.7,85],[-1.9,128],[-3.1,111]]],
[5,[[0,8],[29.5,8],[29.5,133],[27,172],[25.9,241],[22.3,301],[20.5,482],[20.5,638],[18,482],[16.3,473],[14.8,700],[-1,700],[-0.4,441],[0,268]]],
[6,[[9.5,111],[10.5,111],[10,180]]],
[4,[[0.8,120],[6.2,128],[6.8,146],[6.2,206],[4.4,301],[4.4,388],[3.7,669],[3.7,700],[1.7,700],[2,526],[2.3,388],[1.4,267],[0.8,180]]],
[4,[[9.6,55],[11.6,55],[11.6,68],[9.6,68]]],
[3,[[1.7,25],[4.4,42],[5.6,94],[5,128],[3.8,180],[2.6,171],[1.4,128]]],
[2,[[2,33],[3.8,46],[4,103],[3.2,137],[2.3,124]]],
[1,[[2,42],[3.5,51],[3.5,94],[2.6,116],[2,85]]],
[0,[[2.3,63],[3.2,63],[3,90],[2.6,94]]]
];
const panelGMasked = [[-29.5,517],[-1,700],[-29.5,700]];
const panelGContours = [
['dash',[[-29.5,224],[-27.4,276],[-22.6,314],[-18.7,353],[-17.2,331],[-10,323],[-8.5,358],[-4.6,345],[-2.2,310],[-0.7,215],[-0.1,94]]],
['dashRed',[[-29.5,107],[-27.7,172],[-25,224],[-20.5,275],[-18.7,323],[-16.3,297],[-13.6,303],[-10,291],[-8.5,323],[-4.6,301],[-1.6,267],[-0.4,172],[0,77]]],
['dash',[[-14.5,50],[-13.6,38],[-10,51],[-7,38],[-2.2,20],[-0.4,11]]],
['dash',[[-14.5,50],[-14.8,64],[-13,94],[-9.4,120],[-4.6,154],[-3.7,172],[-1,146],[-0.1,77]]],
['dashRed',[[-13,5],[-9.4,16],[-4.6,20],[-0.1,11]]],
['dashRed',[[-13,5],[-16,30],[-14.2,50],[-13.6,85],[-10.6,107],[-3.4,137],[-0.4,120]]],
['dash',[[-4.6,85],[-3.4,59],[-0.4,33],[-0.7,111],[-2.2,137],[-4,111],[-4.6,85]]],
['dashBold',[[-2.5,68],[-1.3,59],[-1.3,81],[-2.5,81],[-2.5,68]]],
['thin',[[17.8,55],[16.3,94],[11.6,146],[8.9,150],[6.2,141],[3.5,159],[1.4,128],[0.5,77],[0.8,25]]],
['thin',[[5,29],[11.6,29],[14.5,38],[17.8,55]]],
['thinRed',[[17.4,55],[15.8,94],[11.6,143],[8.9,147],[6.2,136],[3.5,150],[1.4,120],[0.8,70],[1,22]]],
['thinRed',[[1,22],[5,27],[11.6,26],[14.5,35],[17.4,55]]],
['thin',[[1.4,25],[4,25],[5,68],[3.8,116],[2.6,137],[1.4,103],[0.8,51],[1.4,25]]],
['thinRed',[[1.7,30],[4,30],[4.6,68],[3.6,110],[2.6,125],[1.7,100],[1.2,55],[1.7,30]]],
['thinBold',[[1.7,38],[3.8,42],[4,72],[3.2,107],[2,94],[1.7,38]]],
['thinRed',[[2,42],[3.5,42],[3.6,77],[2.9,90],[2,68],[2,42]]],
['thin',[[6.8,75],[8.3,64],[9.2,77],[8.3,85],[7,81],[6.8,75]]],
['thick',[[29.5,50],[27.4,76],[26.5,110],[24.4,206],[24.1,241],[22.3,232],[20.5,318],[18,328],[16.7,381],[11.6,343],[8.6,327],[7.6,324],[5.6,332],[3.8,370],[3.6,393],[3.2,370],[1.4,206],[0.2,8]]],
['thickRed',[[29.5,47],[27.4,73],[26.5,107],[24.4,203],[24.1,238],[22.3,229],[20.5,315],[18,324],[16.6,372],[11.6,339],[8.6,319],[6.2,300],[3.8,288],[1.7,203],[0.5,8]]],
['thickRed',[[0.2,8],[14.5,8],[26.5,20],[29.5,33]]],
['thick',[[2.9,680],[2.9,700]]]
];
const panelGLabels = [['20',-7,39,'#000',0],['100',13,33,'#e00000',0],['10',-3.2,284,'#e00000',-20],['10',-3.6,332,'#000',-20]];
const panelGHotspots = [[3.2,382,0.6,12,1,'#000'],[2.9,262,0.6,12,1,'#e00000']];

/* ---------- drawing ---------- */
const NS = 'http://www.w3.org/2000/svg';
function addLine(parent, x1, y1, x2, y2, width, name) {
  const l = document.createElementNS(NS, 'line');
  l.setAttribute('x1', x1); l.setAttribute('y1', y1); l.setAttribute('x2', x2); l.setAttribute('y2', y2);
  l.setAttribute('stroke', '#000'); l.setAttribute('stroke-width', width);
  
  
  parent.appendChild(l);
}
function addText(parent, x, y, str, size, anchor, name, fill, angle) {
  const t = document.createElementNS(NS, 'text');
  t.setAttribute('x', x); t.setAttribute('y', y + size * 0.36);
  t.setAttribute('font-size', size); t.setAttribute('text-anchor', anchor);
  if (fill) t.style.fill = fill;
  if (angle) t.setAttribute('transform', 'rotate(' + angle + ' ' + x + ' ' + y + ')');
  t.textContent = str;
  
  
  parent.appendChild(t);
}
function scales(box, xd, yd) {
  return {
    x: v => box.x0 + (v - xd[0]) / (xd[1] - xd[0]) * (box.x1 - box.x0),
    y: v => box.y0 + (v - yd[0]) / (yd[1] - yd[0]) * (box.y1 - box.y0),
    box: box, xd: xd, yd: yd
  };
}
function straightPath(pts, s, closed) {
  return 'M' + pts.map(p => s.x(p[0]).toFixed(1) + ' ' + s.y(p[1]).toFixed(1)).join('L') + (closed ? 'Z' : '');
}
/* Catmull-Rom spline through the outline vertices */
function smoothPath(pts, s, closed) {
  const P = pts.map(p => [s.x(p[0]), s.y(p[1])]);
  const n = P.length, k = 1 / 7;
  const at = i => closed ? P[(i + n) % n] : P[Math.max(0, Math.min(n - 1, i))];
  let d = 'M' + P[0][0].toFixed(1) + ' ' + P[0][1].toFixed(1);
  const segs = closed ? n : n - 1;
  for (let i = 0; i < segs; i++) {
    const p0 = at(i - 1), p1 = at(i), p2 = at(i + 1), p3 = at(i + 2);
    const c1x = p1[0] + (p2[0] - p0[0]) * k, c1y = p1[1] + (p2[1] - p0[1]) * k;
    const c2x = p2[0] - (p3[0] - p1[0]) * k, c2y = p2[1] - (p3[1] - p1[1]) * k;
    d += 'C' + c1x.toFixed(1) + ' ' + c1y.toFixed(1) + ' ' + c2x.toFixed(1) + ' ' + c2y.toFixed(1) + ' ' + p2[0].toFixed(1) + ' ' + p2[1].toFixed(1);
  }
  return d + (closed ? 'Z' : '');
}
function inside(pt, poly) {
  let c = false;
  for (let i = 0, j = poly.length - 1; i < poly.length; j = i++) {
    const a = poly[i], b = poly[j];
    if ((a[1] > pt[1]) !== (b[1] > pt[1]) && pt[0] < (b[0] - a[0]) * (pt[1] - a[1]) / (b[1] - a[1]) + a[0]) c = !c;
  }
  return c;
}
function backgroundRect(parent, s, colour) {
  const r = document.createElementNS(NS, 'rect');
  r.setAttribute('x', s.box.x0); r.setAttribute('y', s.box.y0);
  r.setAttribute('width', s.box.x1 - s.box.x0); r.setAttribute('height', s.box.y1 - s.box.y0);
  r.setAttribute('fill', colour);
  
  
  parent.appendChild(r);
}
/* blocky fill sampled on the model grid from the region outlines */
function blockField(parent, s, regions, palette, baseBand) {
  const dLon = 1.875, dLat = 1.9;
  for (let lat = 35; lat > -35; lat -= dLat) {
    let runStart = 160, runBand = null;
    const yTop = Math.round(s.y(lat)), yBot = Math.round(s.y(Math.max(lat - dLat, -35)));
    for (let lon = 160; lon <= 300 + dLon; lon += dLon) {
      let band = baseBand;
      if (lon < 300) {
        const pt = [lon + dLon / 2, lat - dLat / 2];
        for (const reg of regions) if (inside(pt, reg[1])) band = reg[0];
      } else band = -1;
      if (band !== runBand) {
        if (runBand !== null && runBand !== baseBand) {
          const c = document.createElementNS(NS, 'rect');
          const xa = Math.round(s.x(runStart)), xb = Math.round(s.x(Math.min(lon, 300)));
          c.setAttribute('x', xa); c.setAttribute('y', yTop);
          c.setAttribute('width', xb - xa); c.setAttribute('height', yBot - yTop);
          c.setAttribute('fill', palette[runBand]);
          c.setAttribute('shape-rendering', 'crispEdges');
          
          
          parent.appendChild(c);
        }
        runStart = lon; runBand = band;
      }
    }
  }
}
function smoothField(parent, s, regions, palette) {
  for (const reg of regions) {
    const p = document.createElementNS(NS, 'path');
    p.setAttribute('d', smoothPath(reg[1], s, true));
    p.setAttribute('fill', palette[reg[0]]);
    
    
    parent.appendChild(p);
  }
}
function drawLand(parent, s, outlines) {
  for (const outline of outlines) {
    const p = document.createElementNS(NS, 'path');
    p.setAttribute('d', straightPath(outline, s, true));
    p.setAttribute('fill', '#808080');
    
    
    parent.appendChild(p);
  }
}
const lineStyles = {
  thick: ['#000', 3, ''], thickRed: ['#e80000', 2.5, ''],
  thin: ['#000', 1, ''], thinBold: ['#000', 1.6, ''], thinRed: ['#e80000', 1, ''],
  dash: ['#000', 1, '3 2'], dashBold: ['#000', 1.6, '3 1.5'], dashRed: ['#e80000', 1, '3 2']
};
function drawContours(parent, s, contours, sharpThick) {
  for (const c of contours) {
    const st = lineStyles[c[0]];
    const p = document.createElementNS(NS, 'path');
    const sharp = sharpThick && c[0].indexOf('thick') === 0;
    p.setAttribute('d', sharp ? straightPath(c[1], s, false) : smoothPath(c[1], s, false));
    p.setAttribute('fill', 'none');
    p.setAttribute('stroke', st[0]);
    p.setAttribute('stroke-width', st[1]);
    p.setAttribute('stroke-linejoin', 'round');
    if (st[2]) p.setAttribute('stroke-dasharray', st[2]);
    
    
    parent.appendChild(p);
  }
}
function drawHotspots(parent, s, spots) {
  for (const h of spots) {
    for (let k = 1; k <= h[4]; k++) {
      const e = document.createElementNS(NS, 'ellipse');
      e.setAttribute('cx', s.x(h[0])); e.setAttribute('cy', s.y(h[1]));
      e.setAttribute('rx', Math.abs(s.x(h[0] + h[2] * k / h[4]) - s.x(h[0])));
      e.setAttribute('ry', Math.abs(s.y(h[1] + h[3] * k / h[4]) - s.y(h[1])));
      e.setAttribute('fill', 'none');
      e.setAttribute('stroke', h[5]);
      e.setAttribute('stroke-width', 1.5);
      
      
      parent.appendChild(e);
    }
  }
}
function drawContourLabels(parent, s, labels) {
  for (const l of labels) addText(parent, s.x(l[1]), s.y(l[2]), l[0], 13, 'middle', 'contour-label', l[3], l[4]);
}
function frameAndTicks(parent, s, xTicks, yTicks) {
  const b = s.box;
  const fr = document.createElementNS(NS, 'rect');
  fr.setAttribute('x', b.x0); fr.setAttribute('y', b.y0);
  fr.setAttribute('width', b.x1 - b.x0); fr.setAttribute('height', b.y1 - b.y0);
  fr.setAttribute('fill', 'none'); fr.setAttribute('stroke', '#000'); fr.setAttribute('stroke-width', 1);
  
  
  parent.appendChild(fr);
  for (const v of xTicks) {
    addLine(parent, s.x(v), b.y0 - 11, s.x(v), b.y0, 1, 'x-axis-top-tick');
    addLine(parent, s.x(v), b.y1, s.x(v), b.y1 + 11, 1, 'x-axis-bottom-tick');
  }
  for (const v of yTicks) {
    addLine(parent, b.x0 - 11, s.y(v), b.x0, s.y(v), 1, 'y-axis-left-tick');
    addLine(parent, b.x1, s.y(v), b.x1 + 11, s.y(v), 1, 'y-axis-right-tick');
  }
}
function colourbar(parent, x0, x1, yTop, yBot, tri, palette, labels, labelX, anchor, negShift) {
  const n = palette.length - 2, top = yTop + tri, bot = yBot - tri, h = (bot - top) / n;
  const mid = (x0 + x1) / 2;
  const up = document.createElementNS(NS, 'polygon');
  up.setAttribute('points', x0 + ',' + top + ' ' + mid + ',' + yTop + ' ' + x1 + ',' + top);
  up.setAttribute('fill', palette[palette.length - 1]);
  
  
  parent.appendChild(up);
  const down = document.createElementNS(NS, 'polygon');
  down.setAttribute('points', x0 + ',' + bot + ' ' + mid + ',' + yBot + ' ' + x1 + ',' + bot);
  down.setAttribute('fill', palette[0]);
  
  
  parent.appendChild(down);
  for (let i = 0; i < n; i++) {
    const r = document.createElementNS(NS, 'rect');
    r.setAttribute('x', x0); r.setAttribute('y', top + i * h);
    r.setAttribute('width', x1 - x0); r.setAttribute('height', h);
    r.setAttribute('fill', palette[palette.length - 2 - i]);
    r.setAttribute('stroke', '#000'); r.setAttribute('stroke-width', 0.8);
    
    
    parent.appendChild(r);
  }
  labels.forEach((lab, i) => {
    const neg = lab.charAt(0) === '−';
    addText(parent, neg ? labelX - negShift : labelX, top + i * 2 * h, lab, 13, anchor, 'colorbar-label');
  });
}
function range(a, b, step) { const out = []; for (let v = a; step > 0 ? v <= b : v >= b; v += step) out.push(v); return out; }

/* ---------- panel a ---------- */
(function () {
  const g = document.getElementById('panel-a');
  const yA = v => 112.7 - v * 29.5;
  const xTick = y => 223.3 + (y - 1900) * 5.175;
  const barLeft = y => 226 + (y - 1901) * 5.15;
  const plotClip = document.createElementNS(NS, 'g');
  plotClip.setAttribute('clip-path', 'url(#clip-a-plot)');
  
  
  g.appendChild(plotClip);
  function bar(parent, year, value, colour) {
    const r = document.createElementNS(NS, 'rect');
    const top = value >= 0 ? yA(value) : yA(0);
    r.setAttribute('x', barLeft(year).toFixed(2)); r.setAttribute('y', top.toFixed(2));
    r.setAttribute('width', 5.2); r.setAttribute('height', Math.abs(yA(value) - yA(0)).toFixed(2));
    r.setAttribute('fill', colour);
    r.setAttribute('shape-rendering', 'crispEdges');
    
    
    parent.appendChild(r);
  }
  earlyGreyValues.forEach((v, i) => bar(plotClip, 1900 + i, v, '#808080'));
  lateGreyValues.forEach((v, i) => bar(plotClip, 2010 + i, v, '#808080'));
  const colourClip = document.createElementNS(NS, 'g');
  colourClip.setAttribute('clip-path', 'url(#clip-a-colour)');
  
  
  g.appendChild(colourClip);
  colouredValues.forEach((v, i) => bar(colourClip, 1949 + i, v, v >= 0 ? '#ff0000' : '#0000ff'));
  addLine(g, 213.3, yA(0), 826.7, yA(0), 2.4, 'zero-line');
  addLine(g, 223.3, 25, 223.3, 202, 1, 'left-axis');
  addLine(g, 831.7, 25, 831.7, 202, 2.4, 'right-axis');
  addLine(g, 213.3, 25, 841.7, 25, 2.2, 'top-axis');
  addLine(g, 213.3, 202, 841.7, 202, 2.2, 'bottom-axis');
  range(-3, 3, 0.5).forEach(v => {
    const w = Math.abs(v) === 1 ? 1.8 : 1;
    addLine(g, 213.3, yA(v), 223.3, yA(v), w, 'left-tick');
    addLine(g, 831.7, yA(v), 841.7, yA(v), w, 'right-tick');
  });
  yearTickLabels.forEach(y => {
    addLine(g, xTick(y), 15, xTick(y), 25, 1, 'top-year-tick');
    addLine(g, xTick(y), 202, xTick(y), 212, 1, 'bottom-year-tick');
    addText(g, xTick(y), 230, String(y), 18, 'middle', 'year-label');
  });
  valueTickLabels.forEach(v => {
    addText(g, 207, yA(v), (v < 0 ? '−' : '') + Math.abs(v).toFixed(1), 13, 'end', 'value-label');
  });
  const line = document.createElementNS(NS, 'path');
  let d = '';
  smoothYears.forEach((y, i) => { d += (i ? 'L' : 'M') + xTick(y).toFixed(1) + ' ' + yA(smoothValues[i]).toFixed(1); });
  line.setAttribute('d', d);
  line.setAttribute('fill', 'none'); line.setAttribute('stroke', '#000'); line.setAttribute('stroke-width', 4.4);
  line.setAttribute('stroke-linejoin', 'round');
  
  
  g.appendChild(line);
})();

/* ---------- lon/lat map panels ---------- */
function buildBlockPanel(id, yBox, regions, contours, labels, spots, palette, baseBand, cbLabels, triH, latFmt, extraLand) {
  const g = document.getElementById('panel-' + id);
  const s = scales({ x0: 90.3, x1: 419.3, y0: yBox[0], y1: yBox[1] }, [160, 300], [35, -35]);
  const clip = document.createElementNS(NS, 'g');
  clip.setAttribute('clip-path', 'url(#clip-' + id + ')');
  
  
  g.appendChild(clip);
  backgroundRect(clip, s, palette[baseBand]);
  blockField(clip, s, regions, palette, baseBand);
  drawLand(clip, s, landOutlines);
  if (extraLand) drawLand(clip, s, extraLand);
  drawContours(clip, s, contours, false);
  drawHotspots(clip, s, spots);
  drawContourLabels(clip, s, labels);
  frameAndTicks(g, s, range(160, 300, 10), range(-35, 35, 5));
  range(160, 300, 20).forEach(v => addText(g, s.x(v) + 1, yBox[1] + 22, String(v), 13, 'middle', 'longitude-label'));
  range(-30, 30, 10).forEach(v => addText(g, 74, s.y(v), latFmt(v), 13, 'end', 'latitude-label'));
  colourbar(g, 435.3, 459.7, yBox[0], yBox[1], triH, palette, cbLabels, 464, 'start', 3);
}
buildBlockPanel('b', [284.3, 552.3], panelBRegions, panelBContours, panelBLabels, panelBHotspots, palette14, 8, colourbarLabelsB, 19, v => String(Math.abs(v)));
buildBlockPanel('c', [583.3, 852.3], panelCRegions, panelCContours, panelCLabels, panelCHotspots, palette14, 6, colourbarLabelsB, 19, v => String(v));
buildBlockPanel('d', [897.3, 1166], panelDRegions, panelDContours, panelDLabels, panelDHotspots, palette12, 7, colourbarLabelsD, 22.4, v => (v < 0 ? '−' : '') + Math.abs(v), panelDExtraLand);

const degreeLonLabels = ['165° E', '165° W', '135° W', '105° W', '75° W'];
const degreeLonTicks = [165, 195, 225, 255, 285];
function latLabel(v) { return v === 0 ? '0°' : Math.abs(v) + (v > 0 ? '° N' : '° S'); }
function buildSmoothPanel(id, yBox, regions, contours, labels, spots, cbLabels, cbX, cbAnchor) {
  const g = document.getElementById('panel-' + id);
  const s = scales({ x0: 578, x1: 907, y0: yBox[0], y1: yBox[1] }, [160, 300], [30, -30]);
  const clip = document.createElementNS(NS, 'g');
  clip.setAttribute('clip-path', 'url(#clip-' + id + ')');
  
  
  g.appendChild(clip);
  backgroundRect(clip, s, palette12[6]);
  smoothField(clip, s, regions, palette12);
  drawLand(clip, s, landOutlines);
  drawContours(clip, s, contours, false);
  drawHotspots(clip, s, spots);
  drawContourLabels(clip, s, labels);
  frameAndTicks(g, s, range(165, 285, 15), range(-30, 30, 5));
  degreeLonTicks.forEach((v, i) => addText(g, s.x(v) + 2, yBox[1] + 21, degreeLonLabels[i], 13, 'middle', 'longitude-label'));
  range(-30, 30, 10).forEach(v => addText(g, 561, s.y(v), latLabel(v), 13, 'end', 'latitude-label'));
  colourbar(g, 922.3, 946.3, yBox[0], yBox[1], 22.6, palette12, cbLabels, cbX, cbAnchor, cbAnchor === 'end' ? 0 : 3);
}
buildSmoothPanel('e', [289.3, 557.3], panelERegions, panelEContours, panelELabels, panelEHotspots, colourbarLabelsE, 977, 'end');
buildSmoothPanel('f', [588.3, 857.3], panelFRegions, panelFContours, panelFLabels, panelFHotspots, colourbarLabelsF, 951, 'start');

/* ---------- panel g ---------- */
(function () {
  const g = document.getElementById('panel-g');
  const s = scales({ x0: 578, x1: 907, y0: 902.3, y1: 1171 }, [-29.5, 29.6], [5, 700]);
  const clip = document.createElementNS(NS, 'g');
  clip.setAttribute('clip-path', 'url(#clip-g)');
  
  
  g.appendChild(clip);
  backgroundRect(clip, s, palette12[6]);
  smoothField(clip, s, panelGRegions, palette12);
  const mask = document.createElementNS(NS, 'path');
  mask.setAttribute('d', straightPath(panelGMasked, s, true));
  mask.setAttribute('fill', '#ffffff');
  
  
  clip.appendChild(mask);
  drawContours(clip, s, panelGContours, true);
  drawHotspots(clip, s, panelGHotspots);
  drawContourLabels(clip, s, panelGLabels);
  frameAndTicks(g, s, range(-25, 25, 5), range(50, 700, 50));
  [[-20, '20° S'], [-10, '10° S'], [0, '0°'], [10, '10° N'], [20, '20° N']].forEach(t => addText(g, s.x(t[0]) + 1, 1193, t[1], 13, 'middle', 'latitude-label'));
  range(100, 700, 100).forEach(v => addText(g, 561, s.y(v), String(v), 13, 'end', 'depth-label'));
  colourbar(g, 922.3, 946.3, 902.3, 1171, 22.4, palette12, colourbarLabelsG, 951, 'start', 3);
})();
</script>
</body>
</html>
